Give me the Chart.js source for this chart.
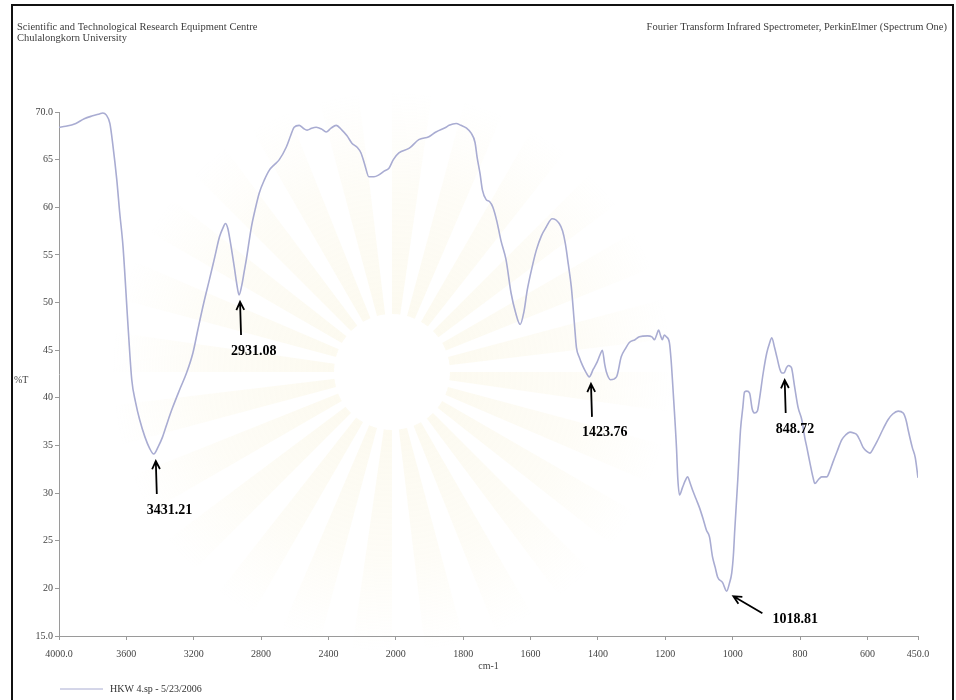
<!DOCTYPE html>
<html>
<head>
<meta charset="utf-8">
<title>FTIR spectrum</title>
<script src="https://cdn.jsdelivr.net/npm/chart.js@4.4.1/dist/chart.umd.min.js"></script>
<style>
  html, body { margin: 0; padding: 0; background: #fff; }
  #frame { position: absolute; left: 11px; top: 4px; width: 939px; height: 760px; border: 2px solid #111; }
  #wrap { position: absolute; left: 0; top: 0; width: 956px; height: 700px; }
</style>
</head>
<body>
<div id="frame"></div>
<div id="wrap"><canvas id="spectrum"></canvas></div>
<script>
// wavenumber (cm-1), descending
const wavenumbers = [
  4000, 3960, 3900, 3850, 3800, 3760, 3740, 3720, 3698, 3680, 3657, 3640, 3620, 3590, 3568, 3545,
  3521, 3490, 3462, 3438, 3410, 3385, 3355, 3325, 3285, 3243, 3205, 3175, 3140, 3107, 3075, 3047,
  3025, 3012, 2998, 2988, 2972, 2959, 2945, 2931, 2915, 2900, 2888, 2858, 2835, 2811, 2780, 2751,
  2720, 2692, 2651, 2625, 2604, 2574, 2550, 2527, 2500, 2473, 2440, 2414, 2385, 2355, 2320, 2290,
  2260, 2230, 2207, 2185, 2160, 2130, 2101, 2070, 2041, 2015, 1991, 1960, 1932, 1902, 1881, 1851,
  1842, 1821, 1807, 1790, 1777, 1765, 1759, 1750, 1743, 1732, 1722, 1712, 1700, 1688, 1673, 1658,
  1645, 1631, 1620, 1610, 1595, 1583, 1568, 1554, 1536, 1515, 1505, 1497, 1488, 1479, 1470, 1464,
  1455, 1446, 1436, 1426, 1414, 1402, 1393, 1387, 1380, 1375, 1363, 1345, 1331, 1318, 1307, 1290,
  1277, 1253, 1240, 1232, 1226, 1220, 1214, 1209, 1203, 1197, 1188, 1183, 1179, 1173, 1167, 1163,
  1158, 1149, 1141, 1134, 1126, 1119, 1109, 1099, 1088, 1078, 1069, 1060, 1052, 1045, 1030, 1018,
  1010, 1003, 998, 994, 985, 977, 970, 965, 958, 950, 942, 935, 927, 920, 910, 899,
  891, 884, 876, 869, 860, 854, 848, 840, 834, 829, 825, 816, 806, 795, 786, 780,
  771, 762, 756, 746, 736, 721, 712, 703, 690, 676, 665, 652, 641, 631, 622, 613,
  603, 593, 581, 569, 554, 539, 525, 509, 494, 485, 479, 467, 458, 450
];

// %T at each wavenumber
const transmittance = [
  68.4, 68.5, 68.8, 69.3, 69.6, 69.8, 69.9, 69.7, 68.8, 66.5, 62.9, 59.5, 55.9, 47.5, 41.9, 39.5,
  37.7, 35.9, 34.7, 34.1, 34.9, 35.9, 37.5, 39.0, 40.8, 42.6, 44.7, 47.2, 50.0, 52.4, 54.8, 56.9,
  57.9, 58.3, 57.8, 56.9, 55.2, 53.7, 52.0, 50.8, 51.8, 53.3, 54.5, 57.9, 59.8, 61.5, 62.9, 63.9,
  64.5, 65.0, 66.3, 67.5, 68.4, 68.6, 68.3, 68.1, 68.3, 68.4, 68.2, 67.9, 68.3, 68.6, 68.1, 67.5,
  66.7, 66.3, 65.7, 64.5, 63.2, 63.2, 63.4, 63.8, 64.1, 65.0, 65.7, 66.2, 67.1, 67.4, 67.9, 68.4,
  68.6, 68.8, 68.6, 68.3, 67.8, 66.8, 65.3, 63.5, 61.8, 60.8, 60.6, 60.0, 58.5, 56.5, 54.5, 51.0,
  49.0, 47.7, 49.0, 51.3, 53.8, 55.5, 57.0, 57.9, 58.8, 58.3, 57.5, 56.2, 54.0, 51.6, 47.8, 45.3,
  44.2, 43.4, 42.7, 42.2, 43.0, 43.8, 44.6, 45.0, 43.5, 42.7, 41.9, 42.2, 44.3, 45.2, 45.8, 46.1,
  46.4, 46.5, 46.4, 46.1, 46.6, 47.1, 46.5, 46.1, 46.6, 46.4, 45.8, 44.0, 41.9, 38.5, 34.8, 31.5,
  29.8, 30.6, 31.3, 31.7, 31.0, 30.3, 29.4, 28.5, 27.3, 26.1, 25.4, 23.3, 22.2, 21.2, 20.6, 19.7,
  20.5, 21.6, 23.5, 26.1, 31.4, 36.6, 39.0, 40.6, 40.7, 40.5, 38.8, 38.4, 38.6, 40.0, 42.5, 44.7,
  45.7, 46.3, 45.3, 44.3, 43.0, 42.6, 42.6, 43.2, 43.4, 43.3, 43.1, 41.1, 39.0, 37.7, 35.8, 34.8,
  33.2, 31.7, 31.0, 31.4, 31.7, 31.7, 32.3, 33.2, 34.4, 35.6, 36.1, 36.4, 36.3, 36.1, 35.5, 34.8,
  34.4, 34.2, 34.8, 35.6, 36.7, 37.7, 38.3, 38.6, 38.4, 37.6, 36.6, 34.8, 33.7, 31.6
];

const xTickValues = [4000, 3600, 3200, 2800, 2400, 2000, 1800, 1600, 1400, 1200, 1000, 800, 600, 450];
const xTickLabels = ["4000.0", "3600", "3200", "2800", "2400", "2000", "1800", "1600", "1400", "1200", "1000", "800", "600", "450.0"];
const yTickValues = [70, 65, 60, 55, 50, 45, 40, 35, 30, 25, 20, 15];
const yTickLabels = ["70.0", "65", "60", "55", "50", "45", "40", "35", "30", "25", "20", "15.0"];

// marked bands: label, wavenumber, %T at the minimum
const peakLabels = ["3431.21", "2931.08", "1423.76", "1018.81", "848.72"];
const peakWavenumbers = [3431.21, 2931.08, 1423.76, 1018.81, 848.72];
const peakValues = [34.1, 50.8, 42.2, 19.7, 42.6];

const headerLeft = ["Scientific and Technological Research Equipment Centre", "Chulalongkorn University"];
const headerRight = "Fourier Transform Infrared Spectrometer, PerkinElmer (Spectrum One)";
const seriesName = "HKW 4.sp - 5/23/2006";

const SERIF = "'Liberation Serif', 'Times New Roman', serif";
const LINE_COLOR = "#a9acd2";

// the instrument plots 4000-2000 at half the scale of 2000-450
function toAxis(wn) {
  return wn >= 2000 ? (4000 - wn) / 2 : 1000 + (2000 - wn);
}

const points = wavenumbers.map((w, i) => ({ x: toAxis(w), y: transmittance[i] }));

function arrow(c, x1, y1, x2, y2) {
  const ang = Math.atan2(y2 - y1, x2 - x1);
  const head = 9;
  c.beginPath();
  c.moveTo(x1, y1);
  c.lineTo(x2, y2);
  c.moveTo(x2 - head * Math.cos(ang - 0.45), y2 - head * Math.sin(ang - 0.45));
  c.lineTo(x2, y2);
  c.lineTo(x2 - head * Math.cos(ang + 0.45), y2 - head * Math.sin(ang + 0.45));
  c.stroke();
}

const notesPlugin = {
  id: "notes",
  beforeDraw(chart) {
    // faint seal behind the plot
    const c = chart.ctx;
    const cx = 392, cy = 372;
    c.save();
    const g = c.createRadialGradient(cx, cy, 50, cx, cy, 280);
    g.addColorStop(0, "rgba(243, 232, 185, 0.22)");
    g.addColorStop(0.6, "rgba(243, 232, 185, 0.12)");
    g.addColorStop(1, "rgba(243, 232, 185, 0)");
    c.fillStyle = g;
    for (let k = 0; k < 24; k++) {
      const a = (k / 24) * Math.PI * 2;
      c.beginPath();
      c.moveTo(cx, cy);
      c.arc(cx, cy, 280, a, a + Math.PI / 22);
      c.closePath();
      c.fill();
    }
    c.fillStyle = "#fff";
    c.beginPath();
    c.arc(cx, cy, 58, 0, Math.PI * 2);
    c.fill();
    c.restore();
  },
  afterDraw(chart) {
    const c = chart.ctx;
    const xs = chart.scales.x, ys = chart.scales.y;
    c.save();

    // page header
    c.fillStyle = "#3c3c3c";
    c.font = `10.5px ${SERIF}`;
    c.textBaseline = "middle";
    c.textAlign = "left";
    c.fillText(headerLeft[0], 17, 27);
    c.fillText(headerLeft[1], 17, 38);
    c.textAlign = "right";
    c.fillText(headerRight, 947, 27);

    // axis titles
    c.font = `10px ${SERIF}`;
    c.fillStyle = "#444";
    c.textAlign = "left";
    c.fillText("%T", 14, (chart.chartArea.top + chart.chartArea.bottom) / 2 + 6);
    c.textAlign = "center";
    c.fillText("cm-1", (chart.chartArea.left + chart.chartArea.right) / 2, 666);

    // series key
    c.strokeStyle = LINE_COLOR;
    c.lineWidth = 1;
    c.beginPath();
    c.moveTo(60, 689);
    c.lineTo(103, 689);
    c.stroke();
    c.fillStyle = "#333";
    c.textAlign = "left";
    c.fillText(seriesName, 110, 689);

    // band labels with arrows
    c.strokeStyle = "#000";
    c.fillStyle = "#000";
    c.lineWidth = 1.8;
    c.font = `bold 14px ${SERIF}`;
    c.textAlign = "left";
    peakLabels.forEach((lbl, i) => {
      const px = xs.getPixelForValue(toAxis(peakWavenumbers[i]));
      const py = ys.getPixelForValue(peakValues[i]);
      if (lbl === "1018.81") {
        arrow(c, px + 36, py + 22, px + 7, py + 5);
        c.fillText(lbl, px + 46, py + 28);
      } else {
        arrow(c, px + 2, py + 40, px + 1, py + 7);
        c.fillText(lbl, px - 8, py + 56);
      }
    });
    c.restore();
  }
};

const ctx = document.getElementById("spectrum").getContext("2d");

new Chart(ctx, {
  type: "line",
  data: {
    datasets: [{
      label: seriesName,
      data: points,
      borderColor: LINE_COLOR,
      borderWidth: 1.6,
      pointRadius: 0,
      cubicInterpolationMode: "monotone",
      fill: false
    }]
  },
  options: {
    responsive: true,
    maintainAspectRatio: false,
    animation: false,
    layout: { padding: { top: 112, right: 38, left: 0, bottom: 0 } },
    plugins: {
      legend: { display: false },
      tooltip: { enabled: false }
    },
    scales: {
      x: {
        type: "linear",
        min: 0,
        max: toAxis(450),
        afterBuildTicks: axis => { axis.ticks = xTickValues.map(w => ({ value: toAxis(w) })); },
        afterFit: axis => { axis.height = 64; },
        ticks: {
          autoSkip: false,
          maxRotation: 0,
          padding: 8,
          color: "#444",
          font: { family: SERIF, size: 10 },
          callback: (v, i) => xTickLabels[i]
        },
        grid: { drawOnChartArea: false, drawTicks: true, tickLength: 4, color: "#9a9a9a" },
        border: { color: "#9a9a9a", width: 1 }
      },
      y: {
        min: 15,
        max: 70,
        afterBuildTicks: axis => { axis.ticks = yTickValues.map(v => ({ value: v })); },
        afterFit: axis => { axis.width = 59; },
        ticks: {
          padding: 2,
          color: "#444",
          font: { family: SERIF, size: 10 },
          callback: (v, i) => yTickLabels[i]
        },
        grid: { drawOnChartArea: false, drawTicks: true, tickLength: 4, color: "#9a9a9a" },
        border: { color: "#9a9a9a", width: 1 }
      }
    }
  },
  plugins: [notesPlugin]
});
</script>
</body>
</html>
